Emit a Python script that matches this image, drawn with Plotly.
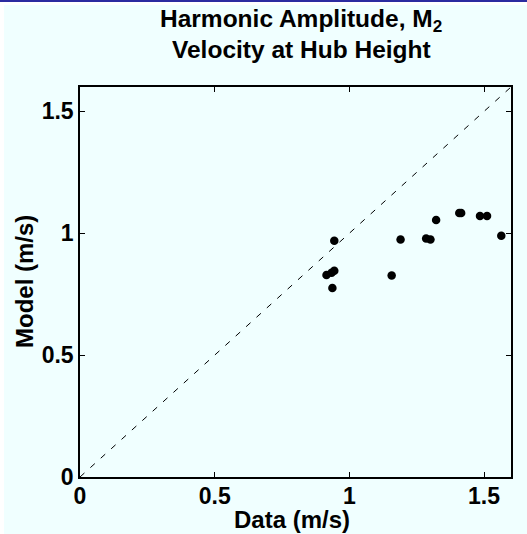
import plotly.graph_objects as go

data_x = [0.944, 0.915, 0.934, 0.944, 0.937, 1.157, 1.190, 1.285, 1.301, 1.322, 1.408, 1.415, 1.485, 1.511, 1.564]
model_y = [0.969, 0.829, 0.838, 0.846, 0.775, 0.827, 0.974, 0.978, 0.974, 1.054, 1.083, 1.083, 1.071, 1.071, 0.990]
ref_line = [0, 1.6]
tick_vals = [0, 0.5, 1, 1.5]
tick_text = ["0", "0.5", "1", "1.5"]
title_lines = ["Harmonic Amplitude, M<sub>2</sub>", "Velocity at Hub Height"]
x_title = "Data (m/s)"
y_title = "Model (m/s)"

W, H = 527, 534
L, R, T, B = 80, 16, 87, 57
pw, ph = W - L - R, H - T - B
bg = "#F0FFFF"
font = "Liberation Sans, Arial, sans-serif"

fig = go.Figure()
fig.add_trace(go.Scatter(x=ref_line, y=ref_line, mode="lines",
                         line=dict(color="black", width=1, dash="6px,8px"),
                         hoverinfo="skip", showlegend=False))
fig.add_trace(go.Scatter(x=data_x, y=model_y, mode="markers",
                         marker=dict(color="black", size=8.5),
                         showlegend=False))

def px2x(p):
    return (p - L) / pw

def py2y(p):
    return 1 - (p - T) / ph

shapes = [
    dict(type="rect", xref="paper", yref="paper", x0=px2x(0), x1=px2x(4), y0=py2y(H), y1=py2y(0),
         fillcolor="white", line=dict(width=0), layer="below"),
    dict(type="rect", xref="paper", yref="paper", x0=px2x(0), x1=px2x(W), y0=py2y(5), y1=py2y(0),
         fillcolor="white", line=dict(width=0), layer="below"),
    dict(type="rect", xref="paper", yref="paper", x0=px2x(0), x1=px2x(W), y0=py2y(2), y1=py2y(0),
         fillcolor="#2B2BA0", line=dict(width=0), layer="below"),
]

axis_common = dict(range=[0, 1.6], tickvals=tick_vals, ticktext=tick_text,
                   ticks="inside", ticklen=5, tickwidth=1, tickcolor="black",
                   showline=True, linecolor="black", linewidth=1.5, mirror="ticks",
                   showgrid=False, zeroline=False,
                   tickfont=dict(family=font, size=23, color="black", weight="bold"))

tfont = dict(family=font, size=24, color="black", weight="bold")
ttl_font = dict(family=font, size=24.5, color="black", weight="bold")

annotations = [
    dict(text=title_lines[0], xref="paper", yref="paper", x=px2x(301), y=py2y(21),
         xanchor="center", yanchor="middle", showarrow=False, font=ttl_font),
    dict(text=title_lines[1], xref="paper", yref="paper", x=px2x(301), y=py2y(50),
         xanchor="center", yanchor="middle", showarrow=False, font=ttl_font),
    dict(text=x_title, xref="paper", yref="paper", x=px2x(292), y=py2y(519),
         xanchor="center", yanchor="middle", showarrow=False, font=tfont),
    dict(text=y_title, xref="paper", yref="paper", x=px2x(24), y=py2y(282),
         xanchor="center", yanchor="middle", showarrow=False, textangle=-90, font=tfont),
]

fig.update_layout(
    width=W, height=H,
    margin=dict(l=L, r=R, t=T, b=B),
    paper_bgcolor=bg, plot_bgcolor=bg,
    shapes=shapes,
    annotations=annotations,
    xaxis=dict(**axis_common, ticklabelstandoff=-2),
    yaxis=dict(**axis_common),
)

fig.write_html("out.html", config={"displayModeBar": False},
               post_script="document.body.style.margin='0px';")
